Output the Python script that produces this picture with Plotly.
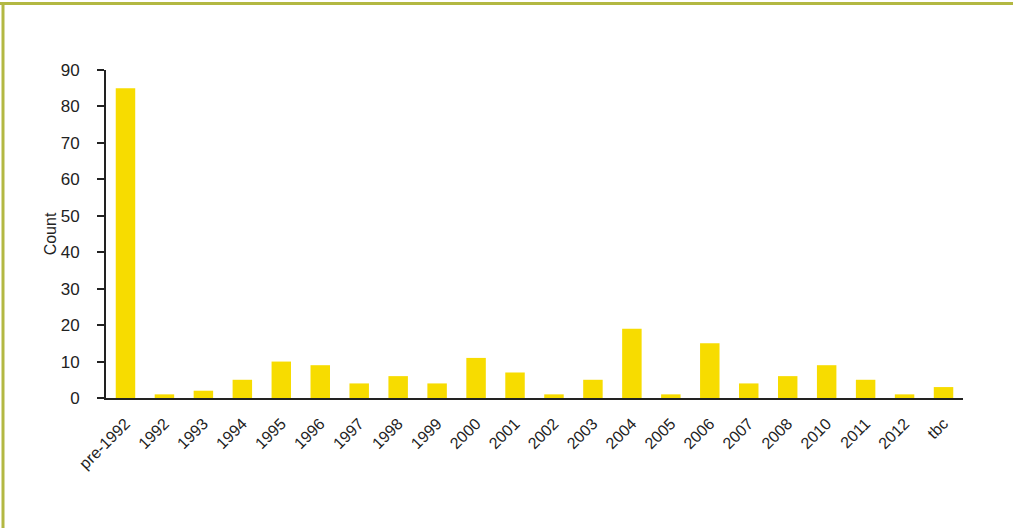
import plotly.graph_objects as go

categories = ["pre-1992", "1992", "1993", "1994", "1995", "1996", "1997", "1998", "1999",
              "2000", "2001", "2002", "2003", "2004", "2005", "2006", "2007", "2008",
              "2010", "2011", "2012", "tbc"]
counts = [85, 1, 2, 5, 10, 9, 4, 6, 4, 11, 7, 1, 5, 19, 1, 15, 4, 6, 9, 5, 1, 3]
y_ticks = [0, 10, 20, 30, 40, 50, 60, 70, 80, 90]

W, H = 1013, 528
L, R, T, B = 106, 50, 70, 130
pw, ph = W - L - R, H - T - B

def px_x(p):
    return (p - L) / pw

def px_y(p):
    return (H - B - p) / ph

fig = go.Figure(go.Bar(x=categories, y=counts, marker_color="#f7dc00",
                       marker_line_width=0))

border = "#b3b842"
fig.add_shape(type="line", xref="paper", yref="paper",
              x0=px_x(0), x1=px_x(W), y0=px_y(3.5), y1=px_y(3.5),
              line=dict(color=border, width=3))
fig.add_shape(type="line", xref="paper", yref="paper",
              x0=px_x(3), x1=px_x(3), y0=px_y(3.5), y1=px_y(H),
              line=dict(color=border, width=3))

fig.update_layout(
    width=W, height=H,
    margin=dict(l=L, r=R, t=T, b=B, autoexpand=False),
    plot_bgcolor="white", paper_bgcolor="white",
    bargap=0.5, showlegend=False,
    font=dict(family="Liberation Sans, Arial, sans-serif", size=16, color="#222222"),
)
fig.update_xaxes(showline=True, linecolor="#222222", linewidth=2,
                 tickangle=-45, ticks="", showgrid=False,
                 ticklabelstandoff=8, tickfont=dict(size=16))
fig.update_yaxes(range=[0, 90], tickvals=y_ticks, showline=True,
                 linecolor="#222222", linewidth=2, ticks="outside",
                 ticklen=7, tickwidth=1.5, tickcolor="#222222", showgrid=False,
                 zeroline=False, ticklabelstandoff=14,
                 title=dict(text="Count", standoff=0, font=dict(size=16)),
                 tickfont=dict(size=17))

fig.write_html("out.html", config={"displayModeBar": False},
               post_script="document.body.style.margin='0';")
